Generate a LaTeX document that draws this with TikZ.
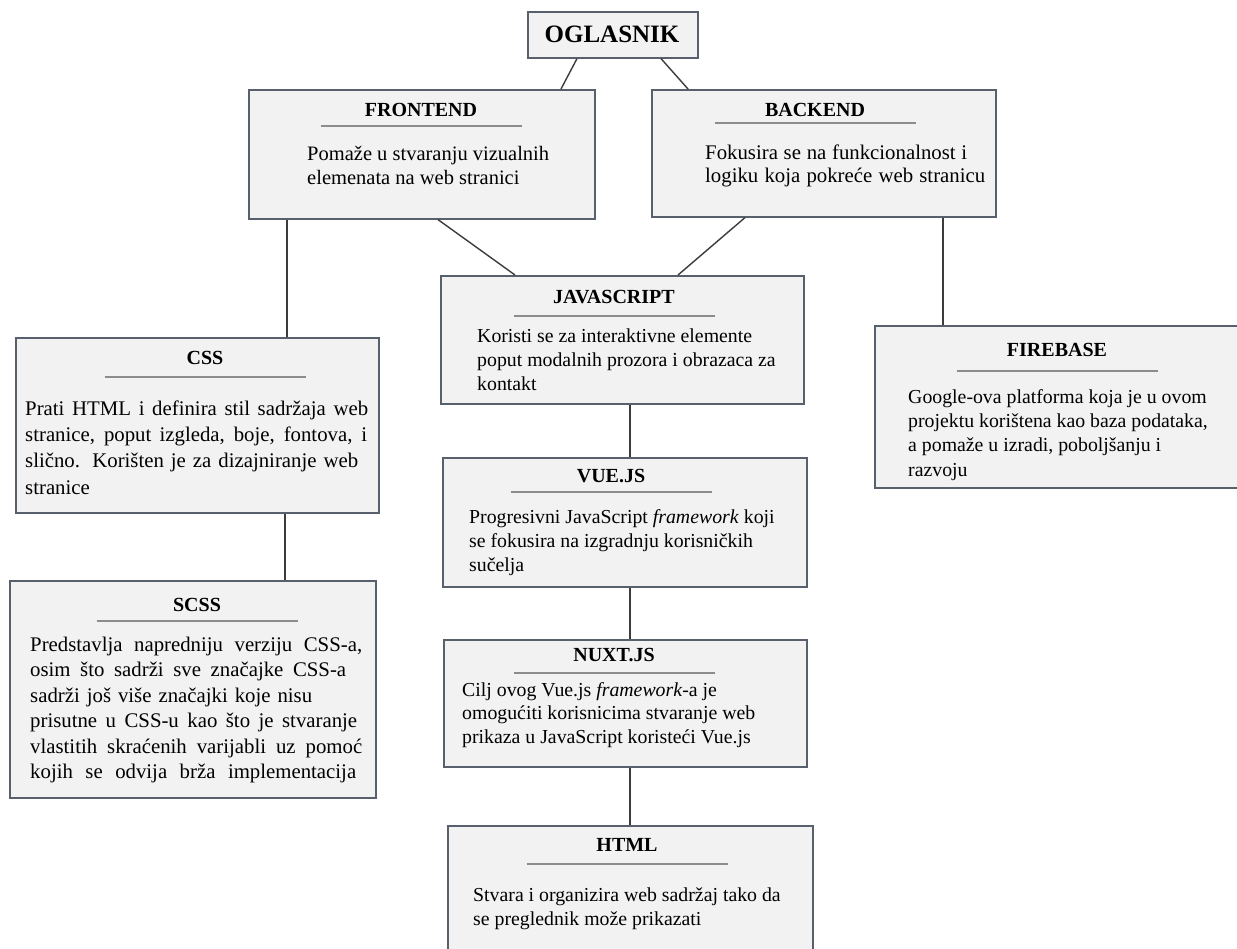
\documentclass[tikz,border=0pt]{standalone}
\usepackage{fontspec}
\setmainfont{Liberation Serif}
\definecolor{boxfill}{RGB}{242,242,242}
\definecolor{boxborder}{RGB}{88,96,110}
\definecolor{conncol}{RGB}{60,60,60}
\definecolor{rulegrey}{RGB}{140,140,140}
\newcommand{\bodylines}[3][24]{{\fontsize{#2}{#1}\selectfont\begin{tabular}[t]{@{}l@{}}#3\end{tabular}}}
\newcommand{\sline}[2]{\makebox[#1pt][s]{#2}}
\begin{document}
\begin{tikzpicture}[x=1pt,y=-1pt,
  box/.style={draw=boxborder, fill=boxfill, line width=1.6pt, inner sep=0pt, anchor=north west},
  ttl/.style={anchor=base, inner sep=0pt, font=\bfseries\fontsize{20}{24}\selectfont},
  body/.style={anchor=base west, inner sep=0pt},
  rulel/.style={draw=rulegrey, line width=1.3pt},
  conn/.style={draw=conncol, line width=1.4pt}]
\useasboundingbox[fill=white] (0,0) rectangle (1237,949);

% boxes
\node[box, minimum width=170pt, minimum height=46pt] (ogl) at (527,11) {};
\node[box, minimum width=346pt, minimum height=129pt] (fe) at (248,89) {};
\node[box, minimum width=344pt, minimum height=127pt] (be) at (651,89) {};
\node[box, minimum width=363pt, minimum height=128pt] (js) at (440,275) {};
\node[box, minimum width=363pt, minimum height=175pt] (css) at (15,337) {};
\node[box, minimum width=376pt, minimum height=162pt] (fb) at (874,325) {};
\node[box, minimum width=364pt, minimum height=129pt] (vue) at (442,457) {};
\node[box, minimum width=363pt, minimum height=127pt] (nuxt) at (443,639) {};
\node[box, minimum width=365pt, minimum height=135pt] (html) at (447,825) {};
\node[box, minimum width=366pt, minimum height=217pt] (scss) at (9,580) {};

% connectors
\draw[conn] ([xshift=50pt]ogl.south west) -- ([xshift=313pt]fe.north west);
\draw[conn] ([xshift=134pt]ogl.south west) -- ([xshift=37pt]be.north west);
\draw[conn] ([xshift=39pt]fe.south west) -- ([xshift=272pt]css.north west);
\draw[conn] ([xshift=190pt]fe.south west) -- ([xshift=75pt]js.north west);
\draw[conn] ([xshift=94pt]be.south west) -- ([xshift=238pt]js.north west);
\draw[conn] ([xshift=292pt]be.south west) -- ([xshift=69pt]fb.north west);
\draw[conn] ([xshift=270pt]css.south west) -- ([xshift=276pt]scss.north west);
\draw[conn] ([xshift=190pt]js.south west) -- ([xshift=188pt]vue.north west);
\draw[conn] ([xshift=188pt]vue.south west) -- ([xshift=187pt]nuxt.north west);
\draw[conn] ([xshift=187pt]nuxt.south west) -- ([xshift=183pt]html.north west);

% OGLASNIK
\node[inner sep=0pt, font=\bfseries\fontsize{25}{30}\selectfont] (ogl-t) at (612,34) {OGLASNIK};

% titles
\node[ttl] (fe-h) at (421,117) {FRONTEND};
\node[ttl] (be-h) at (815,117) {BACKEND};
\node[ttl] (js-h) at (614,304) {JAVASCRIPT};
\node[ttl] (css-h) at (205,365) {CSS};
\node[ttl] (fb-h) at (1057,357) {FIREBASE};
\node[ttl] (vue-h) at (611,482) {VUE.JS};
\node[ttl] (nuxt-h) at (614,661) {NUXT.JS};
\node[ttl] (html-h) at (627,851) {HTML};
\node[ttl] (scss-h) at (197,611) {SCSS};

% rules under titles
\draw[rulel] (320.5,126) -- (521.5,126);
\draw[rulel] (714.5,123) -- (915.5,123);
\draw[rulel] (513.5,316) -- (714.5,316);
\draw[rulel] (104.5,377) -- (305.5,377);
\draw[rulel] (956.5,371) -- (1157.5,371);
\draw[rulel] (510.5,492) -- (711.5,492);
\draw[rulel] (513.5,673) -- (714.5,673);
\draw[rulel] (526.5,864) -- (727.5,864);
\draw[rulel] (96.5,621) -- (297.5,621);

% body texts
\node[body] (fe-b) at (307,161) {\bodylines{20.5}{Pomaže u stvaranju vizualnih\\elemenata na web stranici}};
\node[body] (be-b) at (705,160) {\bodylines[22.5]{20.8}{\sline{262}{Fokusira se na funkcionalnost i}\\\sline{280}{logiku koja pokreće web stranicu}}};
\node[body] (js-b) at (477,343) {\bodylines{19.8}{Koristi se za interaktivne elemente\\poput modalnih prozora i obrazaca za\\kontakt}};
\node[body] (css-b) at (25,416) {\bodylines[26]{20.8}{\sline{343}{Prati HTML i definira stil sadržaja web}\\\sline{342}{stranice, poput izgleda, boje, fontova, i}\\\sline{333}{slično. Korišten je za dizajniranje web}\\stranice}};
\node[body] (fb-b) at (908,403) {\bodylines[24.4]{19.8}{Google-ova platforma koja je u ovom\\projektu korištena kao baza podataka,\\a pomaže u izradi, poboljšanju i\\razvoju}};
\node[body] (vue-b) at (469,523) {\bodylines{19.8}{Progresivni JavaScript \textit{framework} koji\\se fokusira na izgradnju korisničkih\\sučelja}};
\node[body] (nuxt-b) at (462,696) {\bodylines[23.5]{19.8}{Cilj ovog Vue.js \textit{framework}-a je\\omogućiti korisnicima stvaranje web\\prikaza u JavaScript koristeći Vue.js}};
\node[body] (html-b) at (473,901) {\bodylines{19.8}{Stvara i organizira web sadržaj tako da\\se preglednik može prikazati}};
\node[body] (scss-b) at (30,651) {\bodylines[25.5]{20.8}{\sline{332}{Predstavlja napredniju verziju CSS-a,}\\\sline{316}{osim što sadrži sve značajke CSS-a}\\\sline{282}{sadrži još više značajki koje nisu}\\\sline{327}{prisutne u CSS-u kao što je stvaranje}\\\sline{332}{vlastitih skraćenih varijabli uz pomoć}\\\sline{326}{kojih se odvija brža implementacija}}};
\end{tikzpicture}
\end{document}
